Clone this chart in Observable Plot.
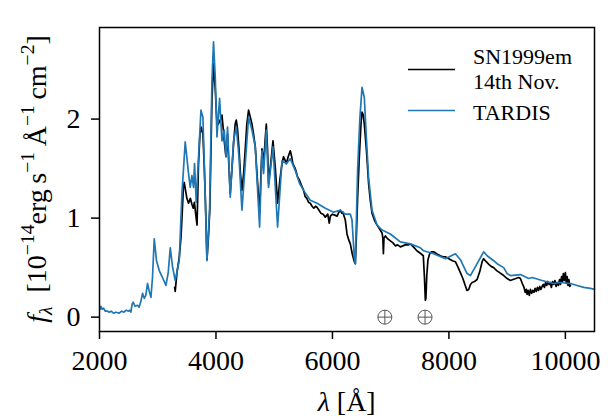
<!DOCTYPE html>
<html>
<head>
<meta charset="utf-8">
<script src="https://cdn.jsdelivr.net/npm/d3@7"></script>
<script src="https://cdn.jsdelivr.net/npm/@observablehq/plot@0.6"></script>
<style>
  html, body { margin: 0; padding: 0; background: white; }
  #chart { width: 610px; height: 417px; }
</style>
</head>
<body>
<div id="chart"></div>
<script>
// Observed spectrum SN1999em, 14th Nov. (wavelength in Å, flux in 1e-14 erg/s/Å/cm2)
const obsWave = [3290,3300,3330,3369,3400,3420,3440,3455,3472,3500,3529,3560,3587,3610,3630,3650,3675,3700,3725,3745,3776,3800,3820,3845,3870,3895,3931,3958,3988,4017,4040,4062,4085,4103,4125,4142,4171,4199,4220,4245,4275,4302,4330,4349,4370,4395,4420,4446,4475,4503,4530,4560,4590,4618,4645,4675,4710,4749,4770,4790,4818,4840,4864,4885,4903,4940,4979,5020,5058,5100,5134,5160,5190,5208,5240,5276,5300,5320,5362,5400,5436,5470,5505,5530,5560,5590,5620,5650,5680,5710,5735,5770,5800,5840,5878,5920,5945,5965,6000,6040,6080,6110,6135,6160,6180,6200,6221,6250,6280,6307,6340,6376,6393,6410,6432,6460,6490,6508,6530,6547,6582,6621,6650,6680,6720,6766,6810,6852,6865,6875,6885,6910,6950,6994,7040,7080,7120,7166,7210,7250,7300,7338,7390,7450,7520,7560,7580,7595,7605,7620,7640,7670,7700,7738,7790,7850,7900,7939,8000,8060,8111,8160,8197,8240,8280,8310,8340,8370,8400,8440,8484,8530,8570,8597,8640,8690,8730,8769,8820,8870,8941,9000,9056,9100,9150,9200,9228,9260,9290,9310,9330,9343,9360,9380,9400,9420,9440,9460,9480,9500,9520,9540,9560,9580,9600,9620,9640,9660,9680,9700,9720,9740,9760,9780,9800,9820,9840,9860,9880,9900,9915,9935,9950,9965,9980,10000,10015,10030,10045,10060,10075,10087];
const obsFlux = [0.30,0.26,0.45,0.60,0.81,1.05,1.30,1.36,1.30,1.20,1.15,1.20,1.14,1.10,1.16,1.05,0.93,1.55,1.85,1.92,1.85,1.50,1.15,0.58,0.80,1.10,2.20,2.56,2.30,1.95,1.95,1.98,2.00,2.04,1.90,1.78,1.62,1.85,1.55,1.25,1.50,1.75,1.95,1.99,1.90,1.70,1.45,1.28,1.45,1.70,1.95,2.09,2.02,1.95,1.85,1.72,1.40,1.05,1.40,1.70,1.55,1.75,1.95,1.70,1.35,1.55,1.78,1.50,1.15,1.40,1.55,1.62,1.58,1.55,1.62,1.68,1.62,1.55,1.50,1.42,1.38,1.33,1.28,1.22,1.20,1.16,1.15,1.12,1.10,1.12,1.11,1.08,1.05,1.04,1.01,1.04,0.95,1.02,1.04,1.03,1.02,1.06,1.08,1.05,1.06,1.02,0.98,0.84,0.78,0.74,0.64,0.56,0.54,0.80,1.20,1.60,1.95,2.07,2.04,1.95,1.70,1.35,1.18,1.05,0.98,0.93,0.89,0.85,0.80,0.64,0.80,0.82,0.79,0.77,0.75,0.72,0.73,0.71,0.72,0.73,0.73,0.74,0.71,0.67,0.64,0.62,0.40,0.17,0.19,0.42,0.58,0.64,0.66,0.66,0.64,0.62,0.61,0.61,0.59,0.57,0.56,0.50,0.45,0.39,0.32,0.27,0.28,0.33,0.35,0.36,0.38,0.46,0.56,0.59,0.56,0.53,0.51,0.50,0.47,0.45,0.42,0.39,0.37,0.38,0.39,0.40,0.39,0.34,0.30,0.25,0.28,0.23,0.27,0.22,0.28,0.24,0.27,0.25,0.29,0.26,0.30,0.27,0.31,0.28,0.31,0.33,0.30,0.35,0.32,0.36,0.33,0.35,0.30,0.36,0.33,0.37,0.31,0.35,0.32,0.38,0.33,0.41,0.36,0.44,0.37,0.45,0.34,0.41,0.32,0.38,0.31,0.32];

// TARDIS model spectrum
const modelWave = [2010,2024,2045,2070,2100,2140,2167,2200,2240,2280,2338,2380,2420,2460,2500,2520,2539,2560,2580,2610,2653,2680,2711,2739,2768,2795,2825,2850,2883,2910,2940,2979,3026,3082,3141,3180,3215,3254,3300,3369,3416,3472,3529,3558,3587,3615,3632,3661,3701,3742,3776,3816,3845,3890,3931,3958,3988,4017,4062,4103,4142,4171,4199,4245,4302,4349,4395,4446,4503,4560,4618,4675,4749,4790,4818,4864,4903,4979,5058,5134,5208,5276,5362,5436,5505,5620,5735,5878,6020,6135,6221,6278,6307,6336,6376,6393,6432,6470,6508,6547,6582,6621,6680,6766,6852,6994,7166,7338,7510,7566,7738,7939,8111,8197,8312,8369,8484,8597,8656,8769,8827,8941,8999,9056,9228,9370,9429,9600,9800,9915,10087,10202,10315,10430,10500];
const modelFlux = [0.08,0.11,0.08,0.09,0.06,0.06,0.05,0.06,0.04,0.05,0.04,0.06,0.05,0.07,0.06,0.07,0.05,0.13,0.15,0.11,0.12,0.10,0.16,0.24,0.19,0.22,0.34,0.27,0.20,0.40,0.79,0.57,0.47,0.40,0.32,0.45,0.70,0.51,0.37,0.57,1.25,1.77,1.45,1.31,1.43,1.31,1.55,1.16,1.62,2.09,2.02,1.21,0.57,1.08,2.39,2.78,2.42,1.82,2.21,1.78,1.89,1.62,1.92,1.21,1.78,1.92,1.62,1.08,1.55,2.02,1.89,1.72,0.91,1.68,1.45,1.89,1.31,1.72,0.91,1.58,1.55,1.60,1.48,1.35,1.28,1.18,1.15,1.10,1.06,1.08,1.04,1.04,1.04,0.98,0.60,0.54,1.48,2.00,2.32,2.22,1.82,1.41,1.08,0.93,0.88,0.84,0.76,0.74,0.70,0.67,0.64,0.59,0.64,0.58,0.44,0.42,0.54,0.66,0.62,0.57,0.54,0.50,0.44,0.42,0.43,0.39,0.40,0.37,0.34,0.35,0.34,0.32,0.30,0.29,0.28];

// telluric absorption markers
const telluric = [6900, 7590];

const xTicks = [2000, 4000, 6000, 8000, 10000];
const yTicks = [0, 1, 2];

const obs = obsWave.map((w, i) => ({w, f: obsFlux[i]}));
const model = modelWave.map((w, i) => ({w, f: modelFlux[i]}));

const serif = "'Liberation Serif', 'Times New Roman', serif";

// earth symbol: circle with a cross
const earthSymbol = {
  draw(ctx, size) {
    const r = Math.sqrt(size / Math.PI);
    ctx.moveTo(r, 0);
    ctx.arc(0, 0, r, 0, 2 * Math.PI);
    ctx.moveTo(-r, 0); ctx.lineTo(r, 0);
    ctx.moveTo(0, -r); ctx.lineTo(0, r);
  }
};

const chart = Plot.plot({
  width: 610,
  height: 417,
  marginLeft: 99,
  marginRight: 16,
  marginTop: 27,
  marginBottom: 86,
  style: {fontFamily: serif, background: "white", color: "black", overflow: "visible"},
  x: {domain: [2000, 10500]},
  y: {domain: [-0.145, 2.925]},
  marks: [
    Plot.line(obs, {x: "w", y: "f", stroke: "black", strokeWidth: 1.7}),
    Plot.line(model, {x: "w", y: "f", stroke: "#1f77b4", strokeWidth: 1.7}),
    Plot.dot(telluric, {x: d => d, y: 0, r: 7, symbol: earthSymbol, fill: "none", stroke: "#555", strokeWidth: 1}),
    Plot.frame({stroke: "black", strokeWidth: 1.5}),
    Plot.axisX({ticks: xTicks, tickSize: 8, tickPadding: 11, fontSize: 28, tickFormat: d => String(d), label: null, strokeWidth: 1.5}),
    Plot.axisY({ticks: yTicks, tickSize: 8, tickPadding: 11, fontSize: 28, tickFormat: d => String(d), label: null, strokeWidth: 1.5})
  ]
});

document.getElementById("chart").appendChild(chart);
const svg = d3.select(chart);

// x label
const xl = svg.append("text")
  .attr("x", 346.7).attr("y", 411)
  .attr("text-anchor", "middle")
  .attr("font-family", serif).attr("font-size", 28).attr("fill", "black")
  .style("white-space", "pre");
xl.append("tspan").attr("font-style", "italic").text("λ");
xl.append("tspan").text(" [Å]");

// y label with super/subscripts
const yl = svg.append("text")
  .attr("transform", "translate(46,179) rotate(-90)")
  .attr("text-anchor", "middle")
  .attr("font-family", serif).attr("font-size", 28).attr("fill", "black")
  .style("white-space", "pre");
const parts = [
  ["f", true, 0, 28],
  ["λ", true, 6, 19.6],
  ["  [10", false, 0, 28],
  ["\u221214", false, -12, 19.6],
  ["erg\u2009s", false, 0, 28],
  ["\u22121", false, -12, 19.6],
  ["\u2009Å", false, 0, 28],
  ["\u22121", false, -12, 19.6],
  ["\u2009cm", false, 0, 28],
  ["\u22122", false, -12, 19.6],
  ["]", false, 0, 28]
];
let prev = 0;
for (const [t, it, shift, fs] of parts) {
  yl.append("tspan")
    .attr("dy", shift - prev)
    .attr("font-size", fs)
    .attr("font-style", it ? "italic" : "normal")
    .text(t);
  prev = shift;
}

// legend
const legend = svg.append("g").attr("font-family", serif).attr("font-size", 22).attr("fill", "black").attr("text-anchor", "start");
legend.append("line").attr("x1", 408).attr("x2", 455).attr("y1", 69.5).attr("y2", 69.5).attr("stroke", "black").attr("stroke-width", 1.5);
legend.append("line").attr("x1", 408).attr("x2", 455).attr("y1", 110.5).attr("y2", 110.5).attr("stroke", "#1f77b4").attr("stroke-width", 1.5);
legend.append("text").attr("x", 473).attr("y", 63.5).text("SN1999em");
legend.append("text").attr("x", 473).attr("y", 88.5).text("14th Nov.");
legend.append("text").attr("x", 473).attr("y", 119.5).text("TARDIS");
</script>
</body>
</html>
